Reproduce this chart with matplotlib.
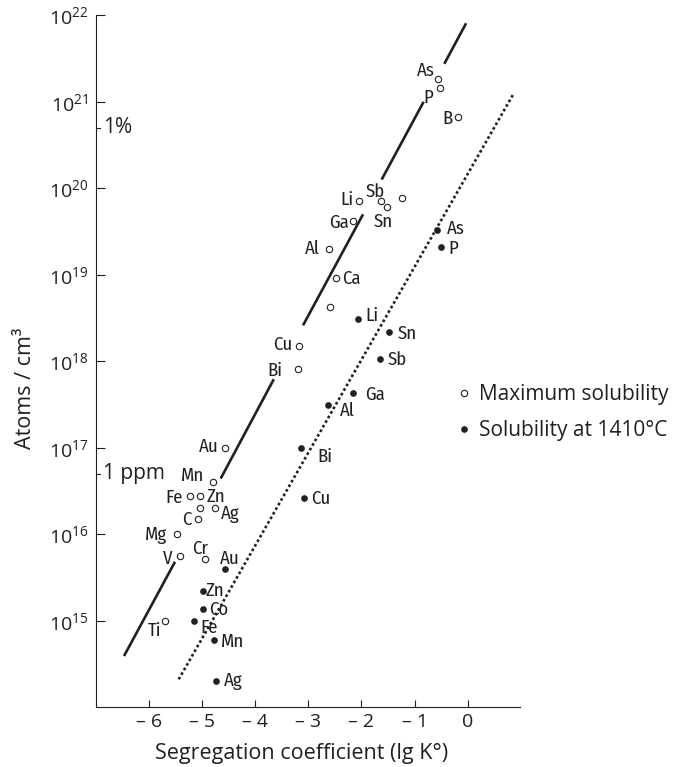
import matplotlib
matplotlib.use("Agg")
import matplotlib.pyplot as plt
from matplotlib.lines import Line2D

plt.rcParams['font.family'] = ['Open Sans', 'DejaVu Sans']
plt.rcParams['mathtext.fontset'] = 'custom'
plt.rcParams['mathtext.rm'] = 'Open Sans'

INK = '#231f20'
LABEL_FONT = ['Fira Sans Condensed', 'DejaVu Sans']

# maximum solubility (open circles): lg K0, atoms/cm3
max_names = ['As', 'P', 'B', 'Li', 'Sb', 'Sn', '', 'Ga', 'Al', 'Ca', '', 'Cu', 'Bi',
             'Au', 'Mn', 'Fe', 'Zn', 'Ag', '', 'C', 'Mg', 'V', 'Cr', 'Ti']
max_k = [-0.56, -0.52, -0.18, -2.04, -1.63, -1.51, -1.23, -2.15, -2.61, -2.48, -2.59, -3.17, -3.20,
         -4.56, -4.79, -5.23, -5.03, -4.75, -5.03, -5.08, -5.48, -5.41, -4.95, -5.69]
max_conc = [1.86e21, 1.45e21, 6.6e20, 7.2e19, 7.1e19, 6.0e19, 7.8e19, 4.2e19, 2.0e19, 9.3e18, 4.2e18,
            1.5e18, 8.1e17, 1.0e17, 4.0e16, 2.8e16, 2.8e16, 2.0e16, 2.0e16, 1.5e16, 1.0e16, 5.6e15,
            5.2e15, 1.0e15]

# solubility at 1410 C (filled dots)
sol_names = ['As', 'P', 'Li', 'Sn', 'Sb', 'Ga', 'Al', 'Bi', 'Cu', 'Au', 'Zn', 'Co', 'Fe', 'Mn', 'Ag']
sol_k = [-0.58, -0.50, -2.06, -1.48, -1.65, -2.15, -2.63, -3.14, -3.08, -4.56, -4.99, -4.99,
         -5.16, -4.77, -4.74]
sol_conc = [3.3e19, 2.1e19, 3.1e18, 2.2e18, 1.05e18, 4.3e17, 3.1e17, 9.8e16, 2.6e16, 4.0e15,
            2.2e15, 1.35e15, 1.0e15, 6.0e14, 2.0e14]

# trend line through maximum solubility, drawn in pieces (gaps around labels)
max_line_k = [(-6.47, -5.51), (-4.65, -3.65), (-3.10, -1.97), (-1.62, -0.83), (-0.44, -0.03)]
max_line_c = [(3.9e14, 4.8e15), (4.4e16, 6.2e17), (2.6e18, 5.0e19), (1.26e20, 1.0e21), (2.75e21, 8.1e21)]

# trend line through solubility at 1410 C
sol_line_k = [-5.44, 0.86]
sol_line_c = [2.1e14, 1.23e21]

x_ticks = [-6, -5, -4, -3, -2, -1, 0]
x_labels = ['\u2013 6', '\u2013 5', '\u2013 4', '\u2013 3', '\u2013 2', '\u2013 1', '0']
y_ticks = [1e15, 1e16, 1e17, 1e18, 1e19, 1e20, 1e21, 1e22]
ONE_PCT = 5e20
ONE_PPM = 5e16

# label offsets in pixels (dx, dy up, ha)
max_offsets = [(-3, 10, 'right'), (-7, -8, 'right'), (-6, 0, 'right'), (-6, 3, 'right'),
               (-6, 11, 'center'), (-4, -12, 'center'), None, (-5, 0, 'right'), (-9, 2, 'right'),
               (6, 1, 'left'), None, (-7, 3, 'right'), (-15, 0, 'right'), (-7, 3, 'right'),
               (-9, 8, 'right'), (-7, 0, 'right'), (6, 1, 'left'), (6, -4, 'left'), None,
               (-6, 1, 'right'), (-9, 1, 'right'), (-8, -1, 'right'), (-5, 12, 'center'),
               (-4, -8, 'right')]
sol_offsets = [(10, 3, 'left'), (7, 0, 'left'), (7, 5, 'left'), (9, 0, 'left'), (8, 1, 'left'),
               (12, 0, 'left'), (12, -4, 'left'), (16, -6, 'left'), (7, 1, 'left'),
               (4, 12, 'center'), (3, 2, 'left'), (7, 1, 'left'), (7, -5, 'left'), (7, 0, 'left'),
               (8, 2, 'left')]

fig = plt.figure(figsize=(6.75, 7.67), dpi=100)
ax = fig.add_axes([0.142, 0.078, 0.628, 0.902])
ax.set_yscale('log')
ax.set_xlim(-7, 0.98)
ax.set_ylim(1e14, 1e22)

for ks, cs in zip(max_line_k, max_line_c):
    ax.plot(ks, cs, color=INK, lw=1.9, solid_capstyle='butt')
ax.plot(sol_line_k, sol_line_c, color=INK, lw=1.9, linestyle=(0, (1, 1)))

ax.plot(max_k, max_conc, 'o', ms=4.6, mfc='white', mec=INK, mew=0.8)
ax.plot(sol_k, sol_conc, 'o', ms=3.8, color=INK)

px = 0.72  # pixel -> point
for names, ks, cs, offs in [(max_names, max_k, max_conc, max_offsets),
                            (sol_names, sol_k, sol_conc, sol_offsets)]:
    for name, k, c, off in zip(names, ks, cs, offs):
        if not name:
            continue
        dx, dy, ha = off
        ax.annotate(name, (k, c), xytext=(dx * px, dy * px), textcoords='offset points',
                    ha=ha, va='center_baseline', fontsize=13.5, family=LABEL_FONT,
                    fontstretch='condensed', color=INK)

# 1% and 1 ppm markers on the y axis
trans = ax.get_yaxis_transform()
for level, txt in [(ONE_PCT, '1%'), (ONE_PPM, '1 ppm')]:
    ax.plot([0, 0.01], [level, level], color=INK, lw=0.8, transform=trans)
    ax.text(0.016, level, txt, transform=trans, ha='left', va='center', fontsize=15, color=INK)

ax.set_xticks(x_ticks)
ax.set_xticklabels(x_labels)
ax.set_yticks(y_ticks)
ax.yaxis.set_minor_locator(matplotlib.ticker.NullLocator())
ax.tick_params(axis='both', direction='in', width=0.8, colors=INK, labelsize=14)
ax.tick_params(axis='x', length=5, pad=4.5)
ax.tick_params(axis='y', length=6.5, pad=5.5)
for side in ['top', 'right']:
    ax.spines[side].set_visible(False)
for side in ['left', 'bottom']:
    ax.spines[side].set_linewidth(0.8)
    ax.spines[side].set_color(INK)

ax.set_xlabel('Segregation coefficient (lg K°)', fontsize=15.5, color=INK)
ax.set_ylabel('Atoms / cm³', fontsize=15.5, color=INK)
ax.xaxis.set_label_coords(0.486, -0.052)
ax.yaxis.set_label_coords(-0.142, 0.461)

handles = [Line2D([], [], marker='o', ls='', ms=4.6, mfc='white', mec=INK, mew=0.8),
           Line2D([], [], marker='o', ls='', ms=3.8, color=INK)]
ax.legend(handles, ['Maximum solubility', 'Solubility at 1410°C'], loc='center left',
          bbox_to_anchor=(0.679, 0.462), bbox_transform=fig.transFigure, frameon=False,
          borderpad=0, borderaxespad=0, handlelength=0.5, handletextpad=0.5,
          labelspacing=0.75, fontsize=15, labelcolor=INK)

fig.savefig('out.png', dpi=100)
